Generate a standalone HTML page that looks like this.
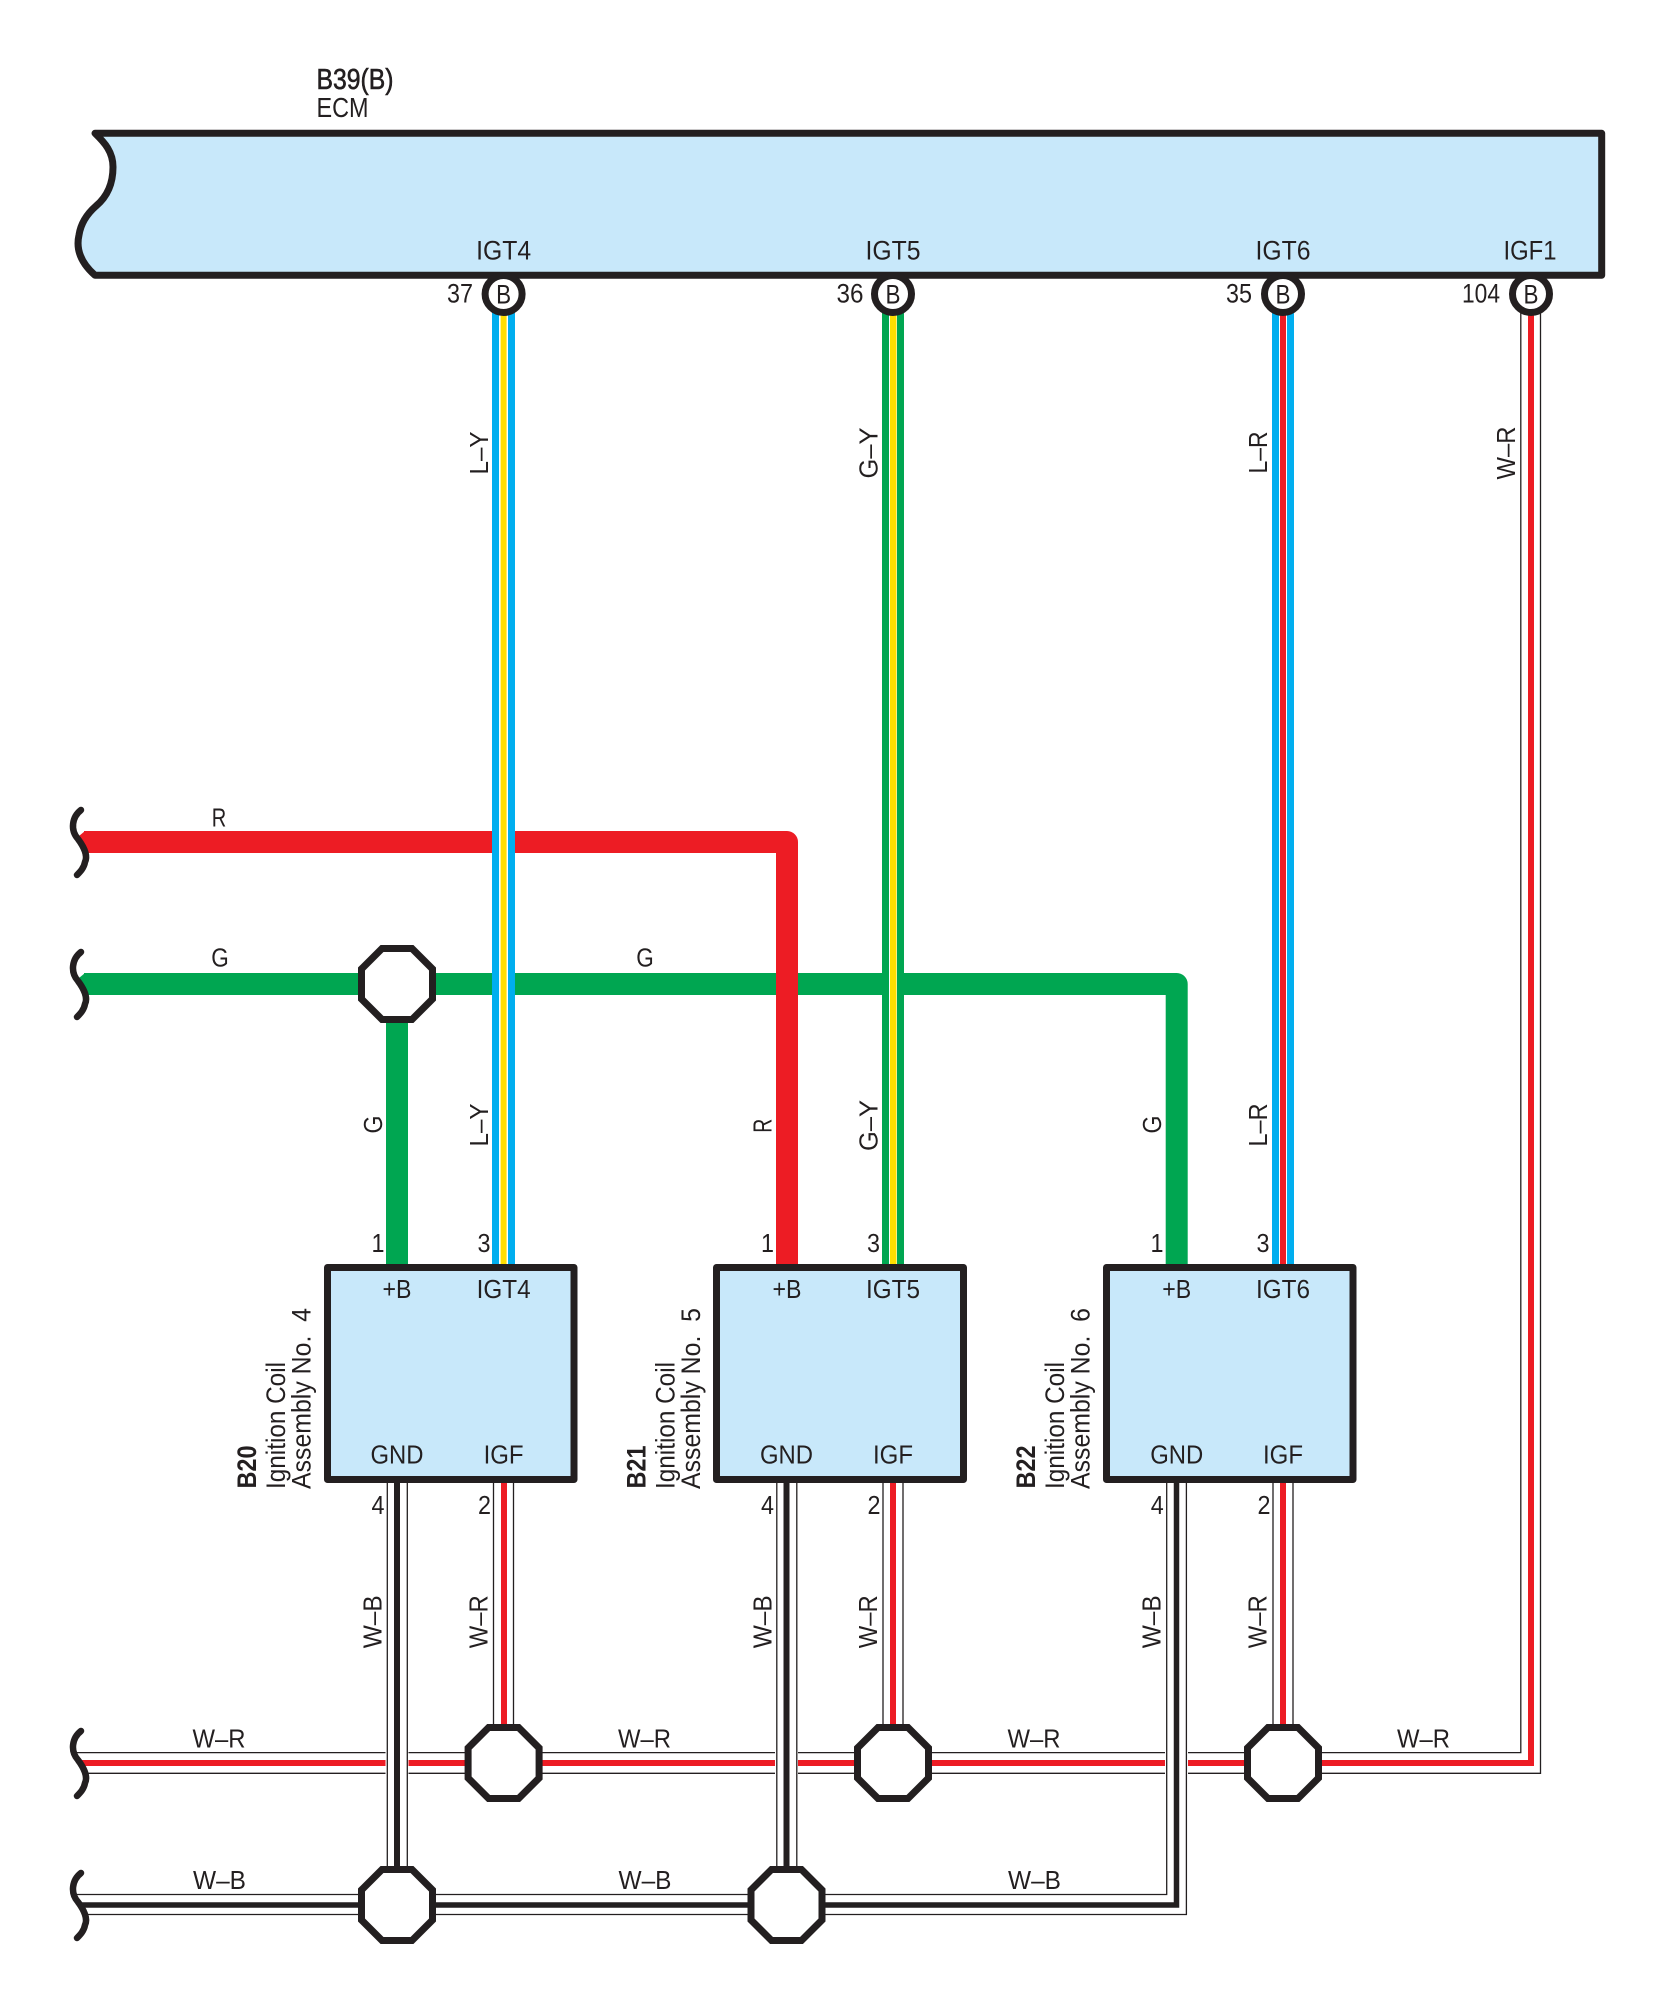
<!DOCTYPE html>
<html>
<head>
<meta charset="utf-8">
<style>
html,body{margin:0;padding:0;background:#fff;width:1655px;height:2006px;overflow:hidden}
svg{display:block}
text{font-family:"Liberation Sans",Arial,sans-serif;font-size:26px;fill:#231f20;white-space:pre}
.c{text-anchor:middle}
.w{fill:none;stroke:#231f20;stroke-width:1.3}
.s{fill:none;stroke:#231f20;stroke-width:6.5;stroke-linecap:round}
.o{fill:#fff;stroke:#231f20;stroke-width:7;stroke-linejoin:miter}
.box{fill:#c8e8fa;stroke:#231f20;stroke-width:7;stroke-linejoin:round}
.l{font-size:27px}
</style>
</head>
<body>
<svg xmlns="http://www.w3.org/2000/svg" width="1655" height="2006" viewBox="0 0 1655 2006">
<rect width="1655" height="2006" fill="#fff"/>

<!-- ECM -->
<path class="box" d="M95,133.3 H1601.7 V275.3 H95 C80,262 76,248 79,235 C81,222 88,213 96,206 C108,196 113,182 113,167 C113,152 105,143 95,133.3 Z"/>
<text x="316.5" y="89" textLength="77" lengthAdjust="spacingAndGlyphs" style="font-size:29px;stroke:#231f20;stroke-width:.6">B39(B)</text>
<text x="316.5" y="117" textLength="52" lengthAdjust="spacingAndGlyphs" style="font-size:28px">ECM</text>
<text class="c" x="503.6" y="259.5" textLength="55" lengthAdjust="spacingAndGlyphs" style="font-size:27px">IGT4</text>
<text class="c" x="893" y="259.5" textLength="55" lengthAdjust="spacingAndGlyphs" style="font-size:27px">IGT5</text>
<text class="c" x="1283" y="259.5" textLength="55" lengthAdjust="spacingAndGlyphs" style="font-size:27px">IGT6</text>
<text class="c" x="1530" y="259.5" textLength="53" lengthAdjust="spacingAndGlyphs" style="font-size:27px">IGF1</text>

<!-- Green -->
<polygon points="85,973 79,978 86,995 85,995" fill="#00a651"/>
<path d="M84,984 H1176.7 V1265" fill="none" stroke="#00a651" stroke-width="22" stroke-linejoin="round"/>
<rect x="386" y="984" width="22" height="281" fill="#00a651"/>

<!-- Red -->
<polygon points="85,831 79,836 86,853" fill="#ed1c24"/>
<path d="M84,842 H787 V1265" fill="none" stroke="#ed1c24" stroke-width="22" stroke-linejoin="round"/>

<!-- Triple wires -->
<rect x="492" y="300" width="23" height="965" fill="#fff"/>
<rect x="492" y="300" width="7" height="965" fill="#00aeef"/>
<rect x="500.6" y="300" width="6" height="965" fill="#ffde00"/>
<rect x="508" y="300" width="7" height="965" fill="#00aeef"/>

<rect x="882" y="300" width="22" height="965" fill="#fff"/>
<rect x="882" y="300" width="7" height="965" fill="#00a651"/>
<rect x="890" y="300" width="6.5" height="965" fill="#ffde00"/>
<rect x="897" y="300" width="7" height="965" fill="#00a651"/>

<rect x="1272" y="300" width="22" height="965" fill="#fff"/>
<rect x="1272" y="300" width="7" height="965" fill="#00aeef"/>
<rect x="1280" y="300" width="6" height="965" fill="#ed1c24"/>
<rect x="1287" y="300" width="7" height="965" fill="#00aeef"/>

<!-- W-R bus and IGF1 wire -->
<path d="M80,1763 H1531 V300" fill="none" stroke="#ed1c24" stroke-width="6" stroke-linejoin="miter"/>
<path class="w" d="M77,1752.6 H1520.8 V300"/>
<path class="w" d="M85,1773.3 H1540.5 V300"/>

<!-- casing where GND wires cross W-R bus -->
<rect x="385.5" y="1745" width="23" height="36" fill="#fff"/>
<rect x="775" y="1745" width="23" height="36" fill="#fff"/>
<rect x="1165" y="1745" width="23" height="36" fill="#fff"/>

<!-- W-B bus -->
<path d="M80,1905 H1176.5 V1482" fill="none" stroke="#231f20" stroke-width="5.5" stroke-linejoin="miter"/>
<path class="w" d="M77,1894.5 H1166.7 V1482"/>
<path class="w" d="M85,1914.5 H1186.4 V1482"/>

<!-- GND verticals -->
<rect x="394" y="1482" width="6" height="390" fill="#231f20"/>
<path class="w" d="M387.3,1482 V1872 M407.3,1482 V1872"/>
<rect x="783.5" y="1482" width="6" height="390" fill="#231f20"/>
<path class="w" d="M776.8,1482 V1872 M796.8,1482 V1872"/>

<!-- IGF verticals -->
<rect x="501" y="1482" width="6" height="250" fill="#ed1c24"/>
<path class="w" d="M493.5,1482 V1732 M513.5,1482 V1732"/>
<rect x="890" y="1482" width="6" height="250" fill="#ed1c24"/>
<path class="w" d="M883,1482 V1732 M903,1482 V1732"/>
<rect x="1280" y="1482" width="6" height="250" fill="#ed1c24"/>
<path class="w" d="M1273,1482 V1732 M1293,1482 V1732"/>

<!-- Break marks -->
<path class="s" d="M81,810 C72,817 70,830 78,839 C84,847 88,856 85,862 C84,868 80,872 77,875"/>
<path class="s" d="M81,952 C72,959 70,972 78,981 C84,989 88,998 85,1004 C84,1010 80,1014 77,1017"/>
<path class="s" d="M81,1731 C72,1738 70,1751 78,1760 C84,1768 88,1777 85,1783 C84,1789 80,1793 77,1796"/>
<path class="s" d="M81,1873 C72,1880 70,1893 78,1902 C84,1910 88,1919 85,1925 C84,1931 80,1935 77,1938"/>

<!-- Octagons -->
<polygon class="o" transform="translate(397,984)" points="-15,-35.5 15,-35.5 35.5,-15 35.5,15 15,35.5 -15,35.5 -35.5,15 -35.5,-15"/>
<polygon class="o" transform="translate(503.6,1763)" points="-15,-35.5 15,-35.5 35.5,-15 35.5,15 15,35.5 -15,35.5 -35.5,15 -35.5,-15"/>
<polygon class="o" transform="translate(893,1763)" points="-15,-35.5 15,-35.5 35.5,-15 35.5,15 15,35.5 -15,35.5 -35.5,15 -35.5,-15"/>
<polygon class="o" transform="translate(1283,1763)" points="-15,-35.5 15,-35.5 35.5,-15 35.5,15 15,35.5 -15,35.5 -35.5,15 -35.5,-15"/>
<polygon class="o" transform="translate(397,1905)" points="-15,-35.5 15,-35.5 35.5,-15 35.5,15 15,35.5 -15,35.5 -35.5,15 -35.5,-15"/>
<polygon class="o" transform="translate(786.5,1905)" points="-15,-35.5 15,-35.5 35.5,-15 35.5,15 15,35.5 -15,35.5 -35.5,15 -35.5,-15"/>

<!-- Pin circles -->
<circle cx="503.6" cy="294" r="18.5" fill="#fff" stroke="#231f20" stroke-width="7"/>
<circle cx="893" cy="294" r="18.5" fill="#fff" stroke="#231f20" stroke-width="7"/>
<circle cx="1283" cy="294" r="18.5" fill="#fff" stroke="#231f20" stroke-width="7"/>
<circle cx="1531" cy="294" r="18.5" fill="#fff" stroke="#231f20" stroke-width="7"/>
<text class="c l" x="503.6" y="303.5" textLength="15" lengthAdjust="spacingAndGlyphs">B</text>
<text class="c l" x="893" y="303.5" textLength="15" lengthAdjust="spacingAndGlyphs">B</text>
<text class="c l" x="1283" y="303.5" textLength="15" lengthAdjust="spacingAndGlyphs">B</text>
<text class="c l" x="1531" y="303.5" textLength="15" lengthAdjust="spacingAndGlyphs">B</text>
<text class="l" x="447" y="302.5" textLength="26" lengthAdjust="spacingAndGlyphs">37</text>
<text class="l" x="836.5" y="302.5" textLength="27" lengthAdjust="spacingAndGlyphs">36</text>
<text class="l" x="1226" y="302.5" textLength="26" lengthAdjust="spacingAndGlyphs">35</text>
<text class="l" x="1462" y="302.5" textLength="38" lengthAdjust="spacingAndGlyphs">104</text>

<!-- Coil boxes -->
<rect class="box" x="327.5" y="1267.5" width="246.5" height="212"/>
<rect class="box" x="716.5" y="1267.5" width="247" height="212"/>
<rect class="box" x="1106.5" y="1267.5" width="246.5" height="212"/>

<text class="c" x="397" y="1298" textLength="29" lengthAdjust="spacingAndGlyphs">+B</text>
<text class="c" x="503.6" y="1298" textLength="54" lengthAdjust="spacingAndGlyphs">IGT4</text>
<text class="c" x="397" y="1463.3" textLength="53" lengthAdjust="spacingAndGlyphs">GND</text>
<text class="c" x="503.6" y="1463.3" textLength="40" lengthAdjust="spacingAndGlyphs">IGF</text>
<text class="c" x="787" y="1298" textLength="29" lengthAdjust="spacingAndGlyphs">+B</text>
<text class="c" x="893" y="1298" textLength="54" lengthAdjust="spacingAndGlyphs">IGT5</text>
<text class="c" x="786.5" y="1463.3" textLength="53" lengthAdjust="spacingAndGlyphs">GND</text>
<text class="c" x="893" y="1463.3" textLength="40" lengthAdjust="spacingAndGlyphs">IGF</text>
<text class="c" x="1176.7" y="1298" textLength="29" lengthAdjust="spacingAndGlyphs">+B</text>
<text class="c" x="1283" y="1298" textLength="54" lengthAdjust="spacingAndGlyphs">IGT6</text>
<text class="c" x="1176.7" y="1463.3" textLength="53" lengthAdjust="spacingAndGlyphs">GND</text>
<text class="c" x="1283" y="1463.3" textLength="40" lengthAdjust="spacingAndGlyphs">IGF</text>

<!-- Pin numbers -->
<text class="c" x="378" y="1252" textLength="13" lengthAdjust="spacingAndGlyphs">1</text>
<text class="c" x="484" y="1252" textLength="13" lengthAdjust="spacingAndGlyphs">3</text>
<text class="c" x="378" y="1514" textLength="13" lengthAdjust="spacingAndGlyphs">4</text>
<text class="c" x="484.5" y="1514" textLength="13" lengthAdjust="spacingAndGlyphs">2</text>
<text class="c" x="767.5" y="1252" textLength="13" lengthAdjust="spacingAndGlyphs">1</text>
<text class="c" x="873.5" y="1252" textLength="13" lengthAdjust="spacingAndGlyphs">3</text>
<text class="c" x="767.5" y="1514" textLength="13" lengthAdjust="spacingAndGlyphs">4</text>
<text class="c" x="874" y="1514" textLength="13" lengthAdjust="spacingAndGlyphs">2</text>
<text class="c" x="1157" y="1252" textLength="13" lengthAdjust="spacingAndGlyphs">1</text>
<text class="c" x="1263" y="1252" textLength="13" lengthAdjust="spacingAndGlyphs">3</text>
<text class="c" x="1157.3" y="1514" textLength="13" lengthAdjust="spacingAndGlyphs">4</text>
<text class="c" x="1264" y="1514" textLength="13" lengthAdjust="spacingAndGlyphs">2</text>

<!-- Coil rotated labels -->
<text class="l" transform="translate(256,1488.5) rotate(-90)" textLength="43" lengthAdjust="spacingAndGlyphs" style="font-weight:bold">B20</text>
<text class="l" transform="translate(285,1489) rotate(-90)" textLength="127" lengthAdjust="spacingAndGlyphs">Ignition Coil</text>
<text class="l" transform="translate(310.5,1489) rotate(-90)" textLength="181" lengthAdjust="spacingAndGlyphs">Assembly No.  4</text>
<text class="l" transform="translate(645.5,1488.5) rotate(-90)" textLength="43" lengthAdjust="spacingAndGlyphs" style="font-weight:bold">B21</text>
<text class="l" transform="translate(674.5,1489) rotate(-90)" textLength="127" lengthAdjust="spacingAndGlyphs">Ignition Coil</text>
<text class="l" transform="translate(700,1489) rotate(-90)" textLength="181" lengthAdjust="spacingAndGlyphs">Assembly No.  5</text>
<text class="l" transform="translate(1035,1488.5) rotate(-90)" textLength="43" lengthAdjust="spacingAndGlyphs" style="font-weight:bold">B22</text>
<text class="l" transform="translate(1064,1489) rotate(-90)" textLength="127" lengthAdjust="spacingAndGlyphs">Ignition Coil</text>
<text class="l" transform="translate(1089.5,1489) rotate(-90)" textLength="181" lengthAdjust="spacingAndGlyphs">Assembly No.  6</text>

<!-- Vertical wire labels -->
<text class="c" transform="translate(488,453) rotate(-90)" textLength="43" lengthAdjust="spacingAndGlyphs">L–Y</text>
<text class="c" transform="translate(877.7,453) rotate(-90)" textLength="51" lengthAdjust="spacingAndGlyphs">G–Y</text>
<text class="c" transform="translate(1267,452.5) rotate(-90)" textLength="42" lengthAdjust="spacingAndGlyphs">L–R</text>
<text class="c" transform="translate(1515,453) rotate(-90)" textLength="53" lengthAdjust="spacingAndGlyphs">W–R</text>

<text class="c" transform="translate(382,1124.5) rotate(-90)" textLength="18" lengthAdjust="spacingAndGlyphs">G</text>
<text class="c" transform="translate(488,1125) rotate(-90)" textLength="43" lengthAdjust="spacingAndGlyphs">L–Y</text>
<text class="c" transform="translate(771.7,1125.7) rotate(-90)" textLength="14" lengthAdjust="spacingAndGlyphs">R</text>
<text class="c" transform="translate(877.7,1125.5) rotate(-90)" textLength="51" lengthAdjust="spacingAndGlyphs">G–Y</text>
<text class="c" transform="translate(1161,1124.5) rotate(-90)" textLength="18" lengthAdjust="spacingAndGlyphs">G</text>
<text class="c" transform="translate(1267,1125) rotate(-90)" textLength="43" lengthAdjust="spacingAndGlyphs">L–R</text>

<text class="c" transform="translate(381.7,1621.8) rotate(-90)" textLength="53" lengthAdjust="spacingAndGlyphs">W–B</text>
<text class="c" transform="translate(487.7,1621.8) rotate(-90)" textLength="53" lengthAdjust="spacingAndGlyphs">W–R</text>
<text class="c" transform="translate(771.7,1621.8) rotate(-90)" textLength="53" lengthAdjust="spacingAndGlyphs">W–B</text>
<text class="c" transform="translate(877.2,1621.8) rotate(-90)" textLength="53" lengthAdjust="spacingAndGlyphs">W–R</text>
<text class="c" transform="translate(1160.7,1621.8) rotate(-90)" textLength="53" lengthAdjust="spacingAndGlyphs">W–B</text>
<text class="c" transform="translate(1266.7,1621.8) rotate(-90)" textLength="53" lengthAdjust="spacingAndGlyphs">W–R</text>

<!-- Horizontal wire labels -->
<text class="c" x="219" y="826.5" textLength="14.5" lengthAdjust="spacingAndGlyphs">R</text>
<text class="c" x="220" y="966.5" textLength="17.5" lengthAdjust="spacingAndGlyphs">G</text>
<text class="c" x="645" y="966.5" textLength="17.5" lengthAdjust="spacingAndGlyphs">G</text>
<text class="c" x="219" y="1747.5" textLength="53" lengthAdjust="spacingAndGlyphs">W–R</text>
<text class="c" x="644.5" y="1747.5" textLength="53" lengthAdjust="spacingAndGlyphs">W–R</text>
<text class="c" x="1034" y="1747.5" textLength="53" lengthAdjust="spacingAndGlyphs">W–R</text>
<text class="c" x="1423.5" y="1747.5" textLength="53" lengthAdjust="spacingAndGlyphs">W–R</text>
<text class="c" x="219.5" y="1889" textLength="53" lengthAdjust="spacingAndGlyphs">W–B</text>
<text class="c" x="645" y="1889" textLength="53" lengthAdjust="spacingAndGlyphs">W–B</text>
<text class="c" x="1034.5" y="1889" textLength="53" lengthAdjust="spacingAndGlyphs">W–B</text>
</svg>
</body>
</html>
